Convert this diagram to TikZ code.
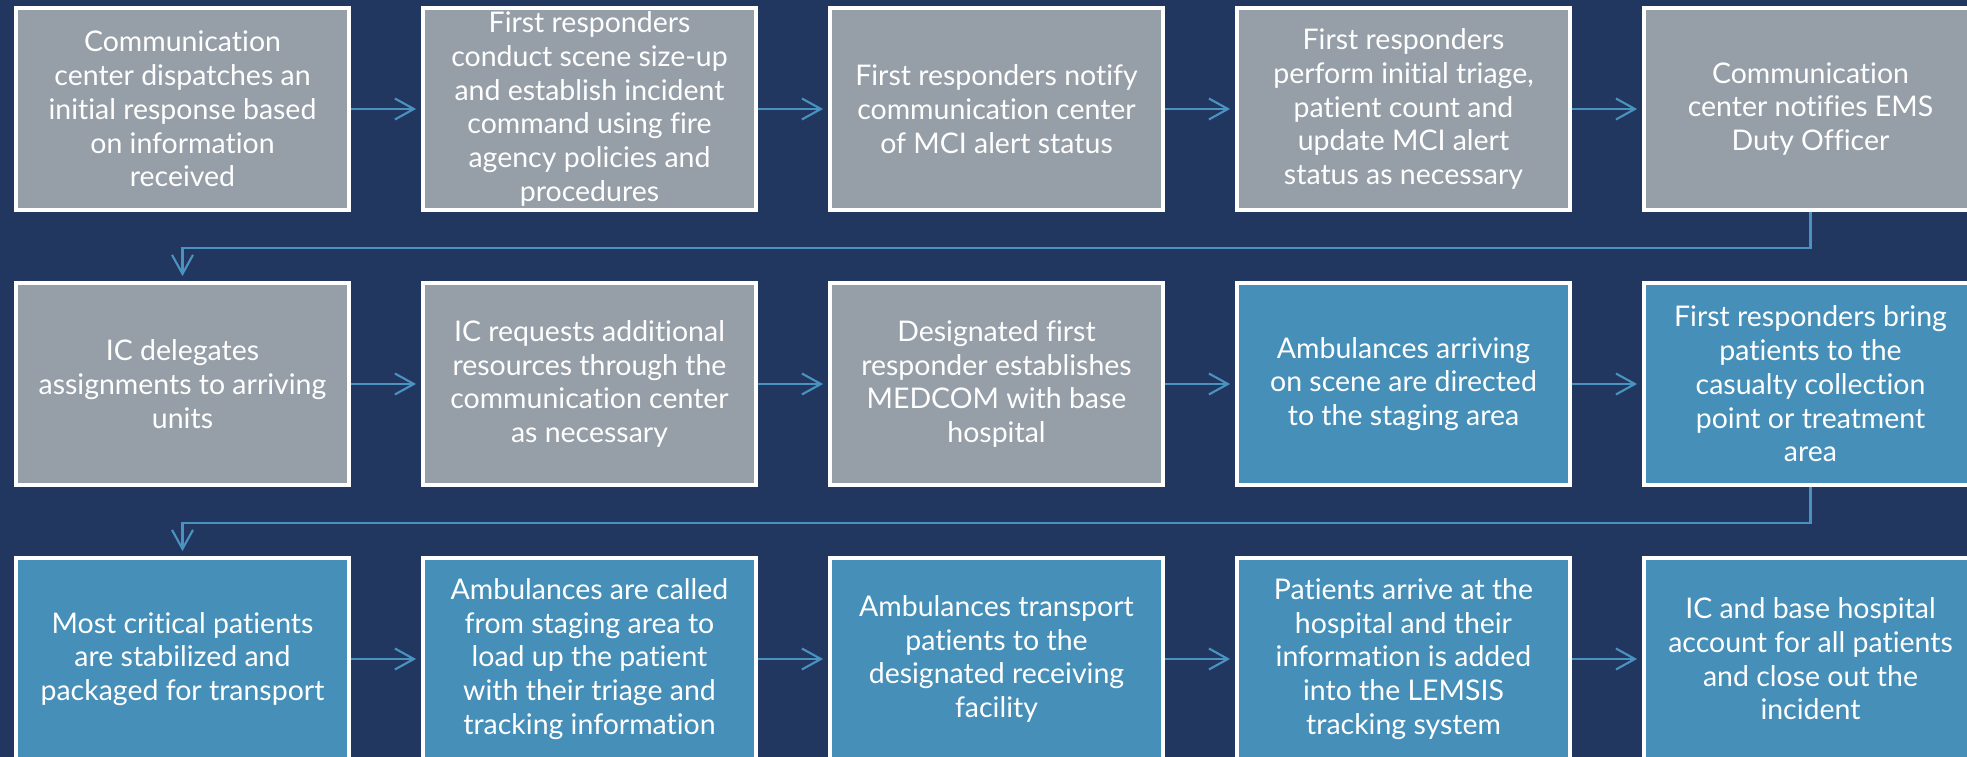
\documentclass[tikz,border=0pt]{standalone}
\usepackage{fontspec}
\setmainfont{Lato}[Ligatures=NoCommon]
\usetikzlibrary{arrows.meta}

\definecolor{navybg}{HTML}{213760}
\definecolor{cardgray}{HTML}{969EA8}
\definecolor{cardblue}{HTML}{458FB9}
\definecolor{linkblue}{HTML}{4A93C1}

\tikzset{
  card/.style={draw=white, line width=1.1pt, minimum width=3.33cm, minimum height=2.02cm,
    inner sep=0pt, align=center, text=white, font=\fontsize{8.1}{9.6}\selectfont},
  graycard/.style={card, fill=cardgray},
  bluecard/.style={card, fill=cardblue},
  link/.style={draw=linkblue, line width=0.6pt, -{Straight Barb[length=1.9mm,width=2.1mm]}, shorten >=0.05cm}
}

\begin{document}
\begin{tikzpicture}

    % Background
    \useasboundingbox (0,0) rectangle (19.67,-7.57);
    \clip (0,0) rectangle (19.67,-7.57);
    \fill[navybg] (0,0) rectangle (19.67,-7.57);

    % First row
    \node[graycard] (box1) at (1.825,-1.09) {Communication\\center dispatches an\\initial response based\\on information\\received};
    \node[graycard] (box2) at (5.895,-1.09) {First responders\\conduct scene size-up\\and establish incident\\command using fire\\agency policies and\\procedures};
    \node[graycard] (box3) at (9.965,-1.09) {First responders notify\\communication center\\of MCI alert status};
    \node[graycard] (box4) at (14.035,-1.09) {First responders\\perform initial triage,\\patient count and\\update MCI alert\\status as necessary};
    \node[graycard] (box5) at (18.105,-1.09) {Communication\\center notifies EMS\\Duty Officer};

    % Second row
    \node[graycard] (box6) at (1.825,-3.84) {IC delegates\\assignments to arriving\\units};
    \node[graycard] (box7) at (5.895,-3.84) {IC requests additional\\resources through the\\communication center\\as necessary};
    \node[graycard] (box8) at (9.965,-3.84) {Designated first\\responder establishes\\MEDCOM with base\\hospital};
    \node[bluecard] (box9) at (14.035,-3.84) {Ambulances arriving\\on scene are directed\\to the staging area};
    \node[bluecard] (box10) at (18.105,-3.84) {First responders bring\\patients to the\\casualty collection\\point or treatment\\area};

    % Third row
    \node[bluecard] (box11) at (1.825,-6.59) {Most critical patients\\are stabilized and\\packaged for transport};
    \node[bluecard] (box12) at (5.895,-6.59) {Ambulances are called\\from staging area to\\load up the patient\\with their triage and\\tracking information};
    \node[bluecard] (box13) at (9.965,-6.59) {Ambulances transport\\patients to the\\designated receiving\\facility};
    \node[bluecard] (box14) at (14.035,-6.59) {Patients arrive at the\\hospital and their\\information is added\\into the LEMSIS\\tracking system};
    \node[bluecard] (box15) at (18.105,-6.59) {IC and base hospital\\account for all patients\\and close out the\\incident};

    % Arrows along each row
    \foreach \a/\b in {1/2, 2/3, 3/4, 4/5, 6/7, 7/8, 8/9, 9/10, 11/12, 12/13, 13/14, 14/15} {
        \draw[link] (box\a.east) -- (box\b.west);
    }

    % Arrows back to the start of the next row
    \draw[link] (box5.south) -- ++(0,-0.36) -| (box6.north);
    \draw[link] (box10.south) -- ++(0,-0.36) -| (box11.north);

\end{tikzpicture}
\end{document}
